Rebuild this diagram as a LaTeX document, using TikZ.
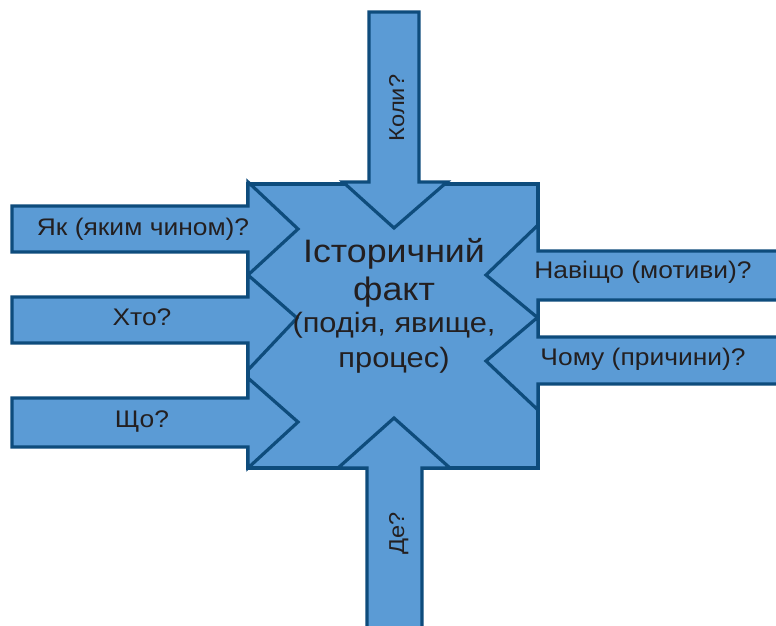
\documentclass[tikz,border=0pt]{standalone}
\usepackage{fontspec}
\setmainfont{Liberation Sans}[FakeStretch=1.1]
\definecolor{fillblue}{HTML}{5B9BD5}
\definecolor{edgeblue}{HTML}{0E4C7C}
\definecolor{txt}{HTML}{231F20}
\begin{document}
\begin{tikzpicture}[x=1pt,y=-1pt,
  blueshape/.style={fill=fillblue,draw=edgeblue,line width=3.2pt,miter limit=10},
  lbl/.style={text=txt,font=\fontsize{24}{28}\selectfont,inner sep=0pt,anchor=base},
  rlbl/.style={text=txt,font=\fontsize{21.5}{25}\selectfont,inner sep=0pt,anchor=base,rotate=90},
  big/.style={text=txt,font=\fontsize{32.5}{38}\selectfont,inner sep=0pt,anchor=base},
  mid/.style={text=txt,font=\fontsize{28}{32}\selectfont,inner sep=0pt,anchor=base}]
\useasboundingbox (0,0) rectangle (776,626);
\clip (0,0) rectangle (776,626);
% central square
\draw[blueshape] (248,184) rectangle (538,468);
% left arrows
\draw[blueshape] (12,206) -- (248,206) -- (248,182) -- (298,229) -- (248,275) -- (248,252) -- (12,252) -- cycle;
\draw[blueshape] (12,297) -- (248,297) -- (248,275) -- (297,318) -- (248,370) -- (248,343) -- (12,343) -- cycle;
\draw[blueshape] (12,398) -- (248,398) -- (248,378) -- (298,422) -- (248,468) -- (248,447) -- (12,447) -- cycle;
% right arrows
\draw[blueshape] (800,251) -- (538,251) -- (538,225) -- (486,275) -- (538,318) -- (538,300) -- (800,300) -- cycle;
\draw[blueshape] (800,337) -- (538,337) -- (538,317) -- (486,361) -- (538,410) -- (538,384) -- (800,384) -- cycle;
% top arrow
\draw[blueshape] (369,12) -- (419,12) -- (419,182) -- (447,182) -- (394,228) -- (343,182) -- (369,182) -- cycle;
% bottom arrow
\draw[blueshape] (367,650) -- (367,468) -- (338,468) -- (394,418) -- (450,468) -- (422,468) -- (422,650) -- cycle;
% texts
\node[big] (t1) at (394,262) {Історичний};
\node[big] (t2) at (394,300) {факт};
\node[mid] (t3) at (394,332) {(подія, явище,};
\node[mid] (t4) at (394,367) {процес)};
\node[lbl] (l1) at (143,235) {Як (яким чином)?};
\node[lbl] (l2) at (142,325) {Хто?};
\node[lbl] (l3) at (142,427) {Що?};
\node[lbl] (r1) at (643,278) {Навіщо (мотиви)?};
\node[lbl] (r2) at (643,365) {Чому (причини)?};
\node[rlbl] (tp) at (404,108) {Коли?};
\node[rlbl] (bt) at (404,533) {Де?};
\end{tikzpicture}
\end{document}
